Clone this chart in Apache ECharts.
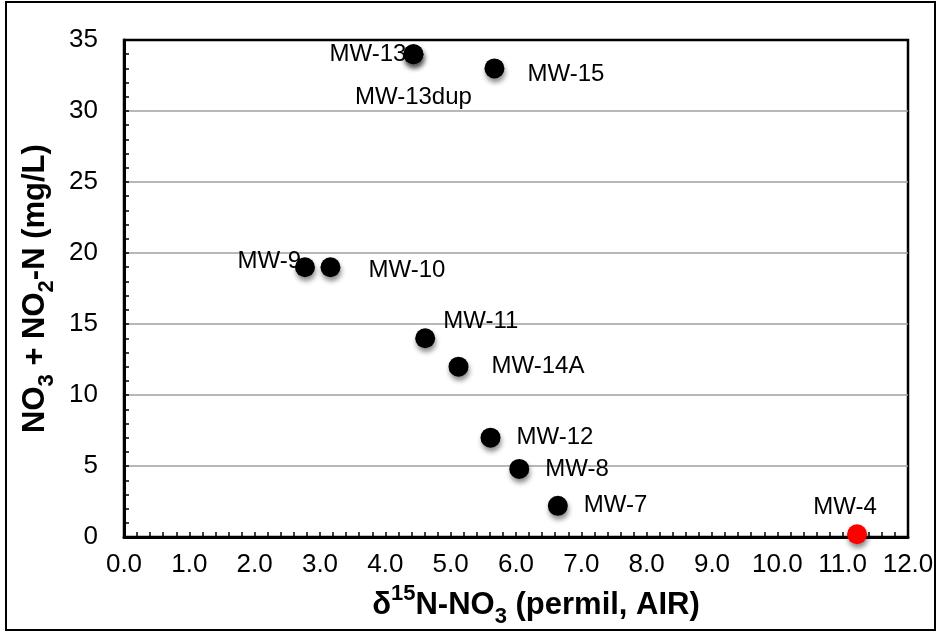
<!DOCTYPE html>
<html>
<head>
<meta charset="utf-8">
<script src="https://cdn.jsdelivr.net/npm/echarts@6/dist/echarts.min.js"></script>
<style>
  html, body { margin: 0; padding: 0; background: #fff; }
  #chart { width: 943px; height: 633px; }
</style>
</head>
<body>
<div id="chart"></div>
<script>
// Monitoring wells: nitrogen isotope ratio vs. nitrate + nitrite concentration
const wellNames = ['MW-13', 'MW-13dup', 'MW-15', 'MW-9', 'MW-10', 'MW-11', 'MW-14A', 'MW-12', 'MW-8', 'MW-7', 'MW-4'];
const d15N      = [4.43, 4.43, 5.67, 2.77, 3.16, 4.61, 5.12, 5.61, 6.05, 6.64, 11.22];
const nitrateN  = [34, 34, 33, 19, 19, 14, 12, 7, 4.8, 2.2, 0.2];

const xTickMin = 0, xTickMax = 12, xTickStep = 1;
const yTickMin = 0, yTickMax = 35, yTickStep = 5;

// Where each well's label sits around its marker
const labelPlacement = {
  'MW-13':    { position: 'left',   distance: -3 },
  'MW-13dup': { position: 'inside', offset: [0, 43] },
  'MW-15':    { position: 'right',  distance: 23, offset: [0, 6] },
  'MW-9':     { position: 'left',   distance: -6, offset: [0, -6] },
  'MW-10':    { position: 'right',  distance: 28, offset: [0, 3] },
  'MW-11':    { position: 'right',  distance: 8,  offset: [0, -17] },
  'MW-14A':   { position: 'right',  distance: 23 },
  'MW-12':    { position: 'right',  distance: 16 },
  'MW-8':     { position: 'right',  distance: 16 },
  'MW-7':     { position: 'right',  distance: 16 },
  'MW-4':     { position: 'top',    distance: 5,  offset: [-12, 0] }
};
const highlightWell = 'MW-4';

const FONT = "'Liberation Sans', Arial, Helvetica, sans-serif";

const points = wellNames.map((name, i) => ({
  name: name,
  value: [d15N[i], nitrateN[i]],
  label: Object.assign({ show: true }, labelPlacement[name]),
  itemStyle: name === highlightWell ? { color: '#ff0000' } : undefined
}));

const titleRich = {
  b:   { fontSize: 31, fontWeight: 'bold', fontFamily: FONT, color: '#000', lineHeight: 45, verticalAlign: 'middle' },
  sub: { fontSize: 22, fontWeight: 'bold', fontFamily: FONT, color: '#000', lineHeight: 22, verticalAlign: 'bottom' },
  sup: { fontSize: 22, fontWeight: 'bold', fontFamily: FONT, color: '#000', lineHeight: 22, verticalAlign: 'top' }
};

const axisCommon = {
  type: 'value',
  axisLine: { show: true, onZero: false, lineStyle: { color: '#000', width: 3 } },
  axisTick: { show: true, inside: true, length: 5, lineStyle: { color: '#000', width: 1.5 } },
  minorTick: { show: true, splitNumber: 5, length: 5, lineStyle: { color: '#000', width: 1.5 } },
  axisLabel: { color: '#000', fontSize: 26, fontFamily: FONT }
};

const chart = echarts.init(document.getElementById('chart'), null, { renderer: 'canvas' });
chart.setOption({
  backgroundColor: '#fff',
  animation: false,
  grid: {
    left: 124, right: 35, top: 40, bottom: 91.5,
    show: true, borderColor: '#000', borderWidth: 2.5, backgroundColor: '#fff'
  },
  graphic: [{
    type: 'rect', silent: true, z: -1,
    shape: { x: 6, y: 2, width: 929, height: 628 },
    style: { fill: 'none', stroke: '#000', lineWidth: 2 }
  }],
  xAxis: Object.assign({}, axisCommon, {
    min: xTickMin, max: xTickMax, interval: xTickStep,
    splitLine: { show: false },
    axisLabel: Object.assign({}, axisCommon.axisLabel, { margin: 15, formatter: v => v.toFixed(1) }),
    name: '{b|δ}{sup|15}{b|N-NO}{sub|3}{b| (permil, AIR)}',
    nameLocation: 'middle', nameGap: 44,
    nameTextStyle: { rich: titleRich, padding: [0, 0, 0, 40] }
  }),
  yAxis: Object.assign({}, axisCommon, {
    min: yTickMin, max: yTickMax, interval: yTickStep,
    splitLine: { show: true, showMinLine: false, showMaxLine: false, lineStyle: { color: '#a0a0a0', width: 1.5 } },
    axisLabel: Object.assign({}, axisCommon.axisLabel, { margin: 26 }),
    name: '{b|NO}{sub|3}{b| + NO}{sub|2}{b|-N (mg/L)}',
    nameLocation: 'middle', nameGap: 54, nameRotate: 90,
    nameTextStyle: { rich: titleRich }
  }),
  series: [{
    type: 'scatter',
    symbol: 'circle',
    symbolSize: 20,
    itemStyle: {
      color: '#000', opacity: 1,
      shadowBlur: 5, shadowOffsetX: 1, shadowOffsetY: 4, shadowColor: 'rgba(0,0,0,0.45)'
    },
    label: { color: '#000', fontSize: 24, fontFamily: FONT, formatter: '{b}' },
    data: points
  }]
});
</script>
</body>
</html>
